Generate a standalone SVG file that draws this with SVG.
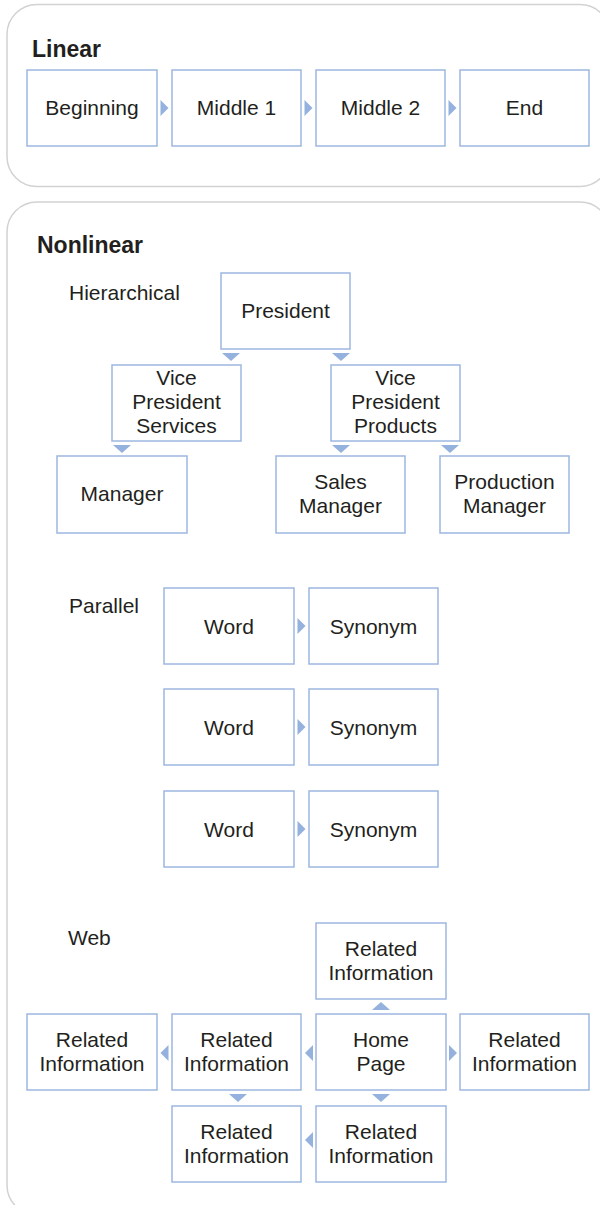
<svg xmlns="http://www.w3.org/2000/svg" width="600" height="1205" viewBox="0 0 600 1205">
<style>
.panel{fill:#fff;stroke:#d2d2d2;stroke-width:1.5}
.box{fill:#fff;stroke:#9db7e1;stroke-width:1.5}
.arr{fill:#95b1dd}
text{font-family:"Liberation Sans",Arial,sans-serif;fill:#231f20}
.t{font-size:21px;text-anchor:middle}
.lab{font-size:21px}
.h{font-size:23px;font-weight:bold}
</style>
<rect width="600" height="1205" fill="#fff"/>
<g id="panel-linear">
<rect class="panel" x="7" y="4.5" width="603" height="182" rx="30"/>
<text class="h" x="32" y="57">Linear</text>
</g>
<g id="panel-nonlinear">
<rect class="panel" x="7" y="202" width="603" height="1013" rx="30"/>
<text class="h" x="37" y="253">Nonlinear</text>
<text class="lab" x="69" y="300">Hierarchical</text>
<text class="lab" x="69" y="613">Parallel</text>
<text class="lab" x="68" y="945">Web</text>
</g>
<g id="connectors">
<path class="arr" d="M160.5,100L168.5,108L160.5,116Z"/>
<path class="arr" d="M304.5,100L312.5,108L304.5,116Z"/>
<path class="arr" d="M448.5,100L456.5,108L448.5,116Z"/>
<path class="arr" d="M222,353L240,353L231,361Z"/>
<path class="arr" d="M332,353L350,353L341,361Z"/>
<path class="arr" d="M113,445L131,445L122,453Z"/>
<path class="arr" d="M332,445L350,445L341,453Z"/>
<path class="arr" d="M441,445L459,445L450,453Z"/>
<path class="arr" d="M297.5,618L305.5,626L297.5,634Z"/>
<path class="arr" d="M297.5,719L305.5,727L297.5,735Z"/>
<path class="arr" d="M297.5,821L305.5,829L297.5,837Z"/>
<path class="arr" d="M372,1010L390,1010L381,1002Z"/>
<path class="arr" d="M168.5,1045L168.5,1061L160.5,1053Z"/>
<path class="arr" d="M313,1045L313,1061L305,1053Z"/>
<path class="arr" d="M449,1045L449,1061L457,1053Z"/>
<path class="arr" d="M229,1094L247,1094L238,1102Z"/>
<path class="arr" d="M372,1094L390,1094L381,1102Z"/>
<path class="arr" d="M313,1132L313,1148L305,1140Z"/>
</g>
<g id="lin-beginning"><rect class="box" x="27" y="70" width="130" height="76"/><text class="t" x="92" y="115">Beginning</text></g>
<g id="lin-middle1"><rect class="box" x="172" y="70" width="129" height="76"/><text class="t" x="236.5" y="115">Middle 1</text></g>
<g id="lin-middle2"><rect class="box" x="316" y="70" width="129" height="76"/><text class="t" x="380.5" y="115">Middle 2</text></g>
<g id="lin-end"><rect class="box" x="460" y="70" width="129" height="76"/><text class="t" x="524.5" y="115">End</text></g>
<g id="h-president"><rect class="box" x="221" y="273" width="129" height="76"/><text class="t" x="285.5" y="318">President</text></g>
<g id="h-vp-services"><rect class="box" x="112" y="365" width="129" height="76"/><text class="t" x="176.5" y="385">Vice</text><text class="t" x="176.5" y="409">President</text><text class="t" x="176.5" y="433">Services</text></g>
<g id="h-vp-products"><rect class="box" x="331" y="365" width="129" height="76"/><text class="t" x="395.5" y="385">Vice</text><text class="t" x="395.5" y="409">President</text><text class="t" x="395.5" y="433">Products</text></g>
<g id="h-manager"><rect class="box" x="57" y="456" width="130" height="77"/><text class="t" x="122" y="501">Manager</text></g>
<g id="h-sales-manager"><rect class="box" x="276" y="456" width="129" height="77"/><text class="t" x="340.5" y="489">Sales</text><text class="t" x="340.5" y="513">Manager</text></g>
<g id="h-production-manager"><rect class="box" x="440" y="456" width="129" height="77"/><text class="t" x="504.5" y="489">Production</text><text class="t" x="504.5" y="513">Manager</text></g>
<g id="p-word1"><rect class="box" x="164" y="588" width="130" height="76"/><text class="t" x="229" y="633.5">Word</text></g>
<g id="p-syn1"><rect class="box" x="309" y="588" width="129" height="76"/><text class="t" x="373.5" y="633.5">Synonym</text></g>
<g id="p-word2"><rect class="box" x="164" y="689" width="130" height="76"/><text class="t" x="229" y="734.5">Word</text></g>
<g id="p-syn2"><rect class="box" x="309" y="689" width="129" height="76"/><text class="t" x="373.5" y="734.5">Synonym</text></g>
<g id="p-word3"><rect class="box" x="164" y="791" width="130" height="76"/><text class="t" x="229" y="836.5">Word</text></g>
<g id="p-syn3"><rect class="box" x="309" y="791" width="129" height="76"/><text class="t" x="373.5" y="836.5">Synonym</text></g>
<g id="w-top"><rect class="box" x="316" y="923" width="130" height="76"/><text class="t" x="381" y="956">Related</text><text class="t" x="381" y="980">Information</text></g>
<g id="w-far-left"><rect class="box" x="27" y="1014" width="130" height="76"/><text class="t" x="92" y="1047">Related</text><text class="t" x="92" y="1071">Information</text></g>
<g id="w-left"><rect class="box" x="172" y="1014" width="129" height="76"/><text class="t" x="236.5" y="1047">Related</text><text class="t" x="236.5" y="1071">Information</text></g>
<g id="w-home"><rect class="box" x="316" y="1014" width="130" height="76"/><text class="t" x="381" y="1047">Home</text><text class="t" x="381" y="1071">Page</text></g>
<g id="w-right"><rect class="box" x="460" y="1014" width="129" height="76"/><text class="t" x="524.5" y="1047">Related</text><text class="t" x="524.5" y="1071">Information</text></g>
<g id="w-bottom-left"><rect class="box" x="172" y="1106" width="129" height="76"/><text class="t" x="236.5" y="1139">Related</text><text class="t" x="236.5" y="1163">Information</text></g>
<g id="w-bottom"><rect class="box" x="316" y="1106" width="130" height="76"/><text class="t" x="381" y="1139">Related</text><text class="t" x="381" y="1163">Information</text></g>
</svg>
